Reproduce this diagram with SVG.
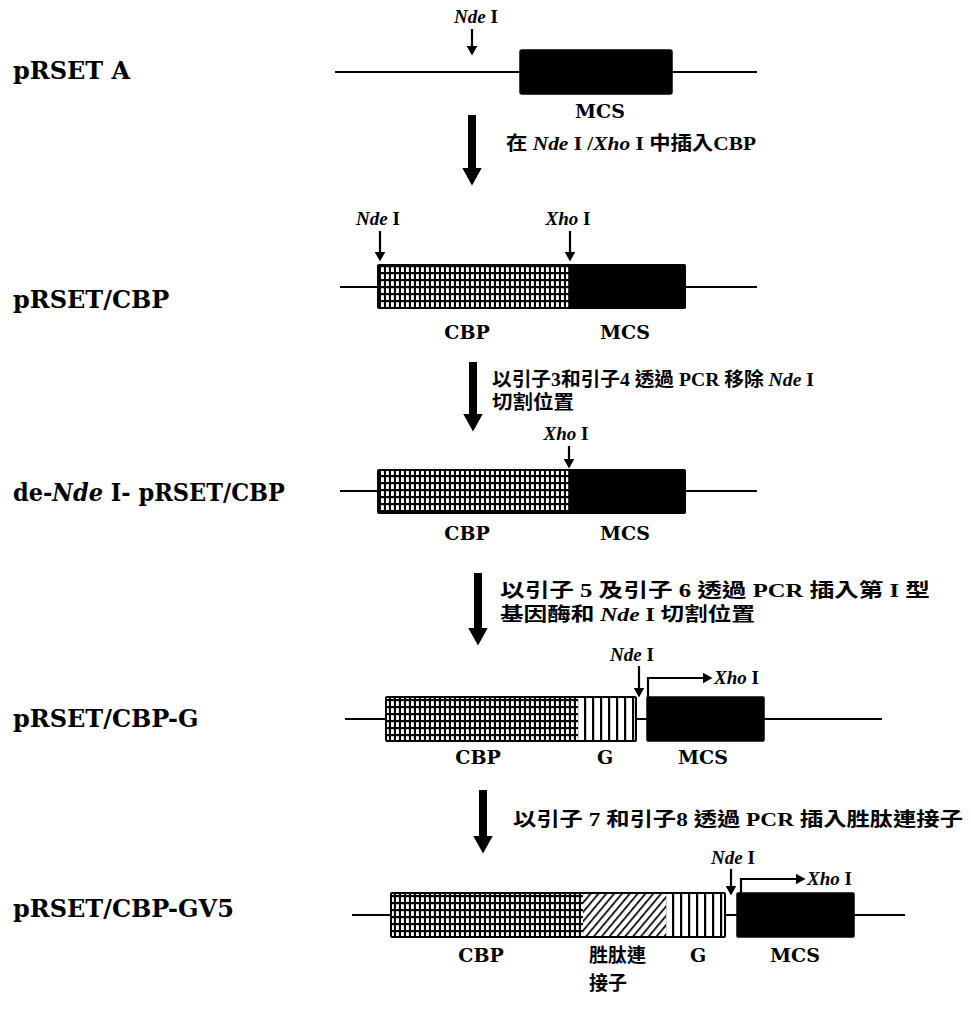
<svg xmlns="http://www.w3.org/2000/svg" width="971" height="1014" viewBox="0 0 971 1014">
<defs>
<style>
.row{font-family:"DejaVu Serif","Liberation Serif",serif;font-weight:bold;font-size:24px;fill:#000}
.seg{font-family:"DejaVu Serif","Noto Sans CJK TC",serif;font-weight:bold;font-size:19px;fill:#000}
.mid{text-anchor:middle}
.site{font-family:"Liberation Serif",serif;font-weight:bold;font-size:19px;fill:#000}
.it{font-style:italic}
.step{font-family:"Liberation Serif","Noto Sans CJK TC",sans-serif;font-weight:bold;font-size:19px;fill:#000}
.dna{stroke:#000;stroke-width:2;fill:none}
.mcs{fill:#000;stroke:#000;stroke-width:1.5}
.outline{fill:none;stroke:#000;stroke-width:2}
.sarrow{stroke:#000;stroke-width:2.2;fill:none}
.barrow{stroke:#000;stroke-width:8;fill:none}
</style>
<pattern id="grid" width="5" height="7" patternUnits="userSpaceOnUse">
<rect width="5" height="7" fill="#000"/>
<rect x="1" y="1.2" width="2.9" height="4.8" fill="#fff"/>
</pattern>
<pattern id="vstripe" width="8" height="10" patternUnits="userSpaceOnUse">
<rect width="8" height="10" fill="#fff"/>
<rect width="2.2" height="10" fill="#000"/>
</pattern>
<pattern id="hatch" width="6" height="6" patternUnits="userSpaceOnUse" patternTransform="rotate(40)">
<rect width="6" height="6" fill="#fff"/>
<rect width="1.7" height="6" fill="#000"/>
</pattern>
<marker id="sm" viewBox="0 0 10 11" refX="0.5" refY="5.5" markerWidth="10" markerHeight="11" markerUnits="userSpaceOnUse" orient="auto">
<path d="M0,0 L10,5.5 L0,11 z" fill="#000"/>
</marker>
<marker id="big" viewBox="0 0 18 20" refX="0.5" refY="10" markerWidth="18" markerHeight="20" markerUnits="userSpaceOnUse" orient="auto">
<path d="M0,0 L18,10 L0,20 z" fill="#000"/>
</marker>
</defs>
<rect width="971" height="1014" fill="#fff"/>

<g id="connectors">
<line class="barrow" x1="472" y1="115" x2="472" y2="168" marker-end="url(#big)"/>
<text class="step" x="506" y="150" textLength="250" lengthAdjust="spacingAndGlyphs">在 <tspan class="it">Nde</tspan> I /<tspan class="it">Xho</tspan> I 中插入CBP</text>

<line class="barrow" x1="473" y1="362" x2="473" y2="414" marker-end="url(#big)"/>
<text class="step" x="492" y="386" textLength="322" lengthAdjust="spacingAndGlyphs">以引子3和引子4 透過 PCR 移除 <tspan class="it">Nde</tspan> I</text>
<text class="step" x="492" y="409" textLength="82" lengthAdjust="spacingAndGlyphs">切割位置</text>

<line class="barrow" x1="478" y1="573" x2="478" y2="628" marker-end="url(#big)"/>
<text class="step" x="500" y="597" textLength="430" lengthAdjust="spacingAndGlyphs">以引子 5 及引子 6 透過 PCR 插入第 I 型</text>
<text class="step" x="500" y="621" textLength="255" lengthAdjust="spacingAndGlyphs">基因酶和 <tspan class="it">Nde</tspan> I 切割位置</text>

<line class="barrow" x1="483" y1="790" x2="483" y2="836" marker-end="url(#big)"/>
<text class="step" x="513" y="826" textLength="450" lengthAdjust="spacingAndGlyphs">以引子 7 和引子8 透過 PCR 插入胜肽連接子</text>
</g>

<g id="pRSET-A">
<text class="row" x="13" y="79">pRSET A</text>
<line class="dna" x1="335" y1="72" x2="757" y2="72"/>
<rect class="mcs" x="520" y="50" width="152" height="44" rx="2"/>
<text class="seg mid" x="600" y="118">MCS</text>
<text class="site mid" x="476" y="23"><tspan class="it">Nde</tspan> I</text>
<line class="sarrow" x1="472" y1="29" x2="472" y2="46" marker-end="url(#sm)"/>
</g>

<g id="pRSET-CBP">
<text class="row" x="13" y="308">pRSET/CBP</text>
<line class="dna" x1="340" y1="287" x2="757" y2="287"/>
<rect x="378" y="265" width="191" height="43" fill="url(#grid)"/>
<rect class="mcs" x="569" y="265" width="116" height="43" rx="1"/>
<rect class="outline" x="378" y="265" width="307" height="43" rx="1"/>
<text class="site mid" x="378" y="225"><tspan class="it">Nde</tspan> I</text>
<line class="sarrow" x1="380" y1="231" x2="380" y2="252" marker-end="url(#sm)"/>
<text class="site mid" x="568" y="225"><tspan class="it">Xho</tspan> I</text>
<line class="sarrow" x1="570" y1="231" x2="570" y2="252" marker-end="url(#sm)"/>
<text class="seg mid" x="467" y="339">CBP</text>
<text class="seg mid" x="625" y="339">MCS</text>
</g>

<g id="de-NdeI-pRSET-CBP">
<text class="row" x="13" y="501" textLength="272" lengthAdjust="spacingAndGlyphs">de-<tspan class="it">Nde</tspan> I- pRSET/CBP</text>
<line class="dna" x1="340" y1="491" x2="757" y2="491"/>
<rect x="378" y="470" width="191" height="43" fill="url(#grid)"/>
<rect class="mcs" x="569" y="470" width="116" height="43" rx="1"/>
<rect class="outline" x="378" y="470" width="307" height="43" rx="1"/>
<text class="site mid" x="566" y="440"><tspan class="it">Xho</tspan> I</text>
<line class="sarrow" x1="569" y1="446" x2="569" y2="459" marker-end="url(#sm)"/>
<text class="seg mid" x="467" y="540">CBP</text>
<text class="seg mid" x="625" y="540">MCS</text>
</g>

<g id="pRSET-CBP-G">
<text class="row" x="13" y="727">pRSET/CBP-G</text>
<line class="dna" x1="345" y1="719" x2="882" y2="719"/>
<rect x="386" y="697" width="192" height="44" fill="url(#grid)"/>
<rect x="578" y="697" width="58" height="44" fill="url(#vstripe)"/>
<rect class="outline" x="386" y="697" width="250" height="44" rx="1"/>
<rect class="mcs" x="647" y="697" width="117" height="44" rx="1"/>
<text class="site mid" x="632" y="661"><tspan class="it">Nde</tspan> I</text>
<line class="sarrow" x1="639" y1="666" x2="639" y2="688" marker-end="url(#sm)"/>
<path class="sarrow" d="M648,697 V678 H703" marker-end="url(#sm)"/>
<text class="site" x="714" y="684"><tspan class="it">Xho</tspan> I</text>
<text class="seg mid" x="478" y="764">CBP</text>
<text class="seg mid" x="605" y="764">G</text>
<text class="seg mid" x="703" y="764">MCS</text>
</g>

<g id="pRSET-CBP-GV5">
<text class="row" x="13" y="917">pRSET/CBP-GV5</text>
<line class="dna" x1="352" y1="915" x2="905" y2="915"/>
<rect x="391" y="893" width="192" height="44" fill="url(#grid)"/>
<rect x="583" y="893" width="83" height="44" fill="url(#hatch)"/>
<rect x="666" y="893" width="59" height="44" fill="url(#vstripe)"/>
<rect class="outline" x="391" y="893" width="334" height="44" rx="1"/>
<rect class="mcs" x="737" y="893" width="117" height="44" rx="1"/>
<text class="site mid" x="733" y="864"><tspan class="it">Nde</tspan> I</text>
<line class="sarrow" x1="731" y1="869" x2="731" y2="886" marker-end="url(#sm)"/>
<path class="sarrow" d="M741,893 V879 H796" marker-end="url(#sm)"/>
<text class="site" x="807" y="885"><tspan class="it">Xho</tspan> I</text>
<text class="seg mid" x="481" y="962">CBP</text>
<text class="seg" x="589" y="962">胜肽連</text>
<text class="seg" x="589" y="990">接子</text>
<text class="seg mid" x="698" y="962">G</text>
<text class="seg mid" x="795" y="962">MCS</text>
</g>
</svg>
